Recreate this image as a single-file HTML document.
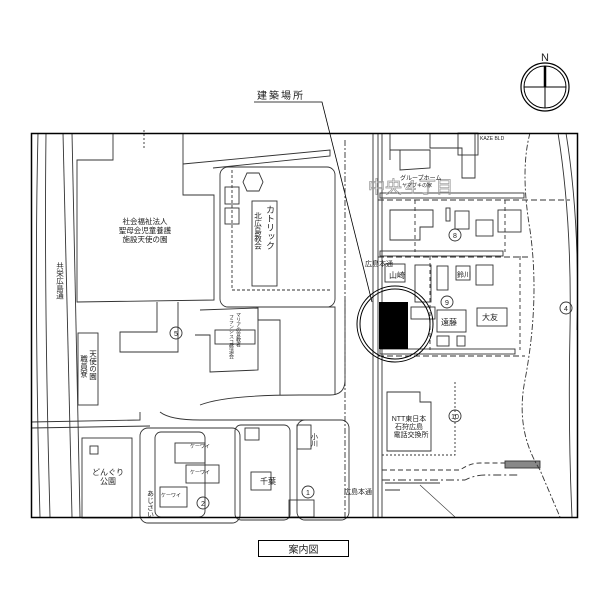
<!DOCTYPE html>
<html><head><meta charset="utf-8"><style>
body{margin:0;background:#fff}
svg{display:block}
text{font-family:"Liberation Sans","Noto Sans CJK JP",sans-serif;fill:#222}
</style></head><body>
<svg width="600" height="600" viewBox="0 0 600 600" xmlns="http://www.w3.org/2000/svg">
<rect width="600" height="600" fill="#fff"/>
<text x="545" y="61" font-size="11" text-anchor="middle">N</text>
<circle cx="545" cy="87" r="24" fill="none" stroke="#000" stroke-width="1.2"/>
<circle cx="545" cy="87" r="21" fill="none" stroke="#000" stroke-width="1"/>
<line x1="524" y1="87" x2="566" y2="87" stroke="#000"/>
<line x1="545" y1="66" x2="545" y2="87" stroke="#000" stroke-width="2.5"/>
<line x1="545" y1="87" x2="545" y2="108" stroke="#000"/>
<text x="257" y="99" font-size="10" letter-spacing="2">建築場所</text>
<polyline points="254,102 322,102 372,302" fill="none" stroke="#000" stroke-width="0.8"/>

<g fill="none" stroke="#333" stroke-width="0.9">
<path d="M38,133 Q34,300 40,517"/>
<path d="M46,133 Q44,300 50,517"/>
<path d="M63,133 L72,517"/>
<path d="M72,133 L80,517"/>
<path d="M31,422 L140,420 L140,412"/>
<path d="M31,428 L150,426"/>
<path d="M113,133 L113,160 L77,160 L77,302 L214,300 L214,195 L183,195 L183,160 L183,133"/>
<path d="M144,130 L144,150" stroke-dasharray="2,2"/>
<path d="M183,164 L330,150 L330,156 L213,168"/>
<rect x="220" y="167" width="115" height="140" rx="8"/>
<path d="M232,170 L232,290 L330,290" stroke-dasharray="3,2"/>
<rect x="252" y="201" width="25" height="85"/>
<polygon points="247,173 259,173 263,182 259,191 247,191 243,182"/>
<rect x="225" y="187" width="14" height="17"/>
<rect x="225" y="208" width="14" height="16"/>
<path d="M157,302 L157,332 L120,332 L120,352 L178,352 L178,302"/>
<path d="M200,310 L258,308 L258,370 L210,372 L210,335 L195,335"/>
<rect x="215" y="330" width="40" height="14"/>
<circle cx="176" cy="333" r="6"/>
<rect x="78" y="333" width="20" height="72"/>
<path d="M258,308 L258,320 L280,320 L280,395 M280,307 L335,307 L335,395"/>
<path d="M200,405 Q225,395 300,395 L330,395 Q345,395 345,380 L345,300"/>
<path d="M160,412 Q170,420 200,420 L330,420"/>
<rect x="140" y="428" width="100" height="95" rx="8"/>
<rect x="155" y="432" width="50" height="85" rx="6"/>
<rect x="175" y="443" width="30" height="20"/>
<rect x="186" y="465" width="33" height="18"/>
<rect x="160" y="487" width="27" height="20"/>
<rect x="235" y="425" width="55" height="95" rx="6"/>
<rect x="245" y="428" width="14" height="12"/>
<rect x="297" y="420" width="52" height="100" rx="8"/>
<rect x="297" y="425" width="14" height="24"/>
<rect x="82" y="438" width="50" height="80"/>
<rect x="90" y="446" width="8" height="8"/>
<rect x="251" y="472" width="20" height="18"/>
<rect x="289" y="500" width="25" height="17"/>
<circle cx="308" cy="492" r="6"/>
<circle cx="203" cy="503" r="6"/>
<path d="M373,133 L373,517 M378,133 L378,517 M382,133 L382,517"/>
<path d="M345,140 L345,517" stroke-dasharray="6,2,2,2"/>
<rect x="380" y="193" width="144" height="5"/>
<rect x="380" y="251" width="123" height="5"/>
<rect x="380" y="349" width="135" height="5"/>
<path d="M390,160 L390,133 M390,150 L430,150 L430,168 L400,170 L400,150"/>
<path d="M430,133 L430,148 L462,148 L462,178 L475,178 L475,133"/>
<rect x="458" y="133" width="20" height="22"/>
<path d="M390,210 L433,210 L433,227 L420,227 L420,240 L390,240 Z"/>
<rect x="446" y="208" width="4" height="13"/>
<rect x="455" y="211" width="14" height="18"/>
<rect x="476" y="220" width="17" height="16"/>
<rect x="498" y="210" width="23" height="22"/>
<circle cx="455" cy="235" r="6"/>
<rect x="385" y="264" width="20" height="18"/>
<rect x="415" y="265" width="16" height="37"/>
<rect x="437" y="266" width="11" height="24"/>
<rect x="456" y="266" width="14" height="14"/>
<rect x="476" y="265" width="17" height="20"/>
<rect x="411" y="307" width="24" height="12"/>
<rect x="437" y="310" width="29" height="22"/>
<rect x="477" y="308" width="30" height="18"/>
<rect x="437" y="336" width="12" height="10"/>
<rect x="457" y="336" width="8" height="10"/>
<circle cx="447" cy="302" r="6"/>
<path d="M415,200 L415,252 M505,200 L505,252 M430,256 L430,350 M520,256 L520,350" stroke-dasharray="4,3"/>
<path d="M378,200 L570,200 M378,257 L530,257 M378,356 L525,356" stroke-dasharray="6,3"/>
<path d="M387,392 L420,392 L420,402 L431,402 L431,451 L387,451 Z"/>
<path d="M382,455 L455,455 L455,380" stroke-dasharray="2,2"/>
<circle cx="455" cy="416" r="6"/>
<path d="M382,470 L460,470 Q470,463 480,463 L520,463" stroke-dasharray="5,3"/>
<path d="M382,480 L465,480 Q475,475 485,475 L520,475" stroke-dasharray="8,3,2,3"/>
<rect x="505" y="461" width="35" height="7" fill="#888"/>
<path d="M385,483 L440,483 M385,490 L400,490"/>
<path d="M420,485 L455,517" stroke-width="0.6"/>
<path d="M530,133 Q520,170 530,230 Q540,300 525,380 Q515,430 540,470 L560,517" stroke-dasharray="6,2,2,2"/>
<path d="M558,133 Q572,220 570,330 Q568,430 572,517"/>
<path d="M566,133 Q580,220 577,330"/>
<circle cx="566" cy="308" r="6"/>
</g>
<g font-size="7" text-anchor="middle" fill="#555">
<text x="176" y="336">5</text><text x="308" y="495">1</text><text x="203" y="506">2</text>
<text x="455" y="238">8</text><text x="447" y="305">9</text><text x="455" y="419">10</text><text x="566" y="311">4</text>
</g>
<rect x="379" y="302" width="29" height="47" fill="#000"/>
<circle cx="395" cy="324" r="38" fill="none" stroke="#000" stroke-width="1"/>
<circle cx="395" cy="324" r="35" fill="none" stroke="#000" stroke-width="1"/>
<rect x="31.5" y="133.5" width="546" height="384" fill="none" stroke="#000" stroke-width="1.5"/>
<text x="368" y="193" font-size="17" style="fill:none;stroke:#999;stroke-width:0.7">中央４丁目</text>
<text x="145" y="224" font-size="7.5" text-anchor="middle">社会福祉法人</text>
<text x="145" y="233" font-size="7.5" text-anchor="middle">聖母会児童養護</text>
<text x="145" y="242" font-size="7.5" text-anchor="middle">施設天使の園</text>
<text font-size="9" x="270" y="205" style="writing-mode:vertical-rl">カトリック</text>
<text font-size="7.5" x="258" y="212" style="writing-mode:vertical-rl">北広島教会</text>
<text font-size="7.5" x="60" y="262" style="writing-mode:vertical-rl">共栄広島通</text>
<text font-size="7.5" x="93" y="350" style="writing-mode:vertical-rl">天使の園</text>
<text font-size="7.5" x="84" y="355" style="writing-mode:vertical-rl">職員寮</text>
<text font-size="5" x="238" y="312" style="writing-mode:vertical-rl">マリアの宣教者</text>
<text font-size="5" x="231" y="314" style="writing-mode:vertical-rl">フランシスコ修道会</text>
<text x="365" y="266" font-size="7">広島本通</text>
<text x="389" y="278" font-size="8">山崎</text>
<text x="441" y="325" font-size="8">遠藤</text>
<text x="482" y="320" font-size="8">大友</text>
<text x="457" y="277" font-size="7">鈴川</text>
<text x="400" y="180" font-size="6">グループホーム</text>
<text x="402" y="187" font-size="5">ヤマブキの家</text>
<text x="480" y="140" font-size="5">KAZE BLD</text>
<text x="409" y="421" font-size="7" text-anchor="middle">NTT東日本</text>
<text x="409" y="429" font-size="7" text-anchor="middle">石狩広島</text>
<text x="411" y="437" font-size="7" text-anchor="middle">電話交換所</text>
<text x="108" y="475" font-size="8" text-anchor="middle">どんぐり</text>
<text x="108" y="484" font-size="8" text-anchor="middle">公園</text>
<text x="260" y="484" font-size="8">千葉</text>
<text x="314" y="433" font-size="7" style="writing-mode:vertical-rl">小川</text>
<text x="344" y="494" font-size="7">広島本通</text>
<text x="150" y="490" font-size="7" style="writing-mode:vertical-rl">あじさい</text>
<text x="190" y="448" font-size="5">ケーワイ</text>
<text x="190" y="474" font-size="5">ケーワイ</text>
<text x="161" y="497" font-size="5">ケーワイ</text>
<rect x="258.5" y="540.5" width="90" height="16" fill="none" stroke="#000" stroke-width="1"/>
<text x="303.5" y="553" font-size="10" text-anchor="middle">案内図</text>
</svg>
</body></html>
